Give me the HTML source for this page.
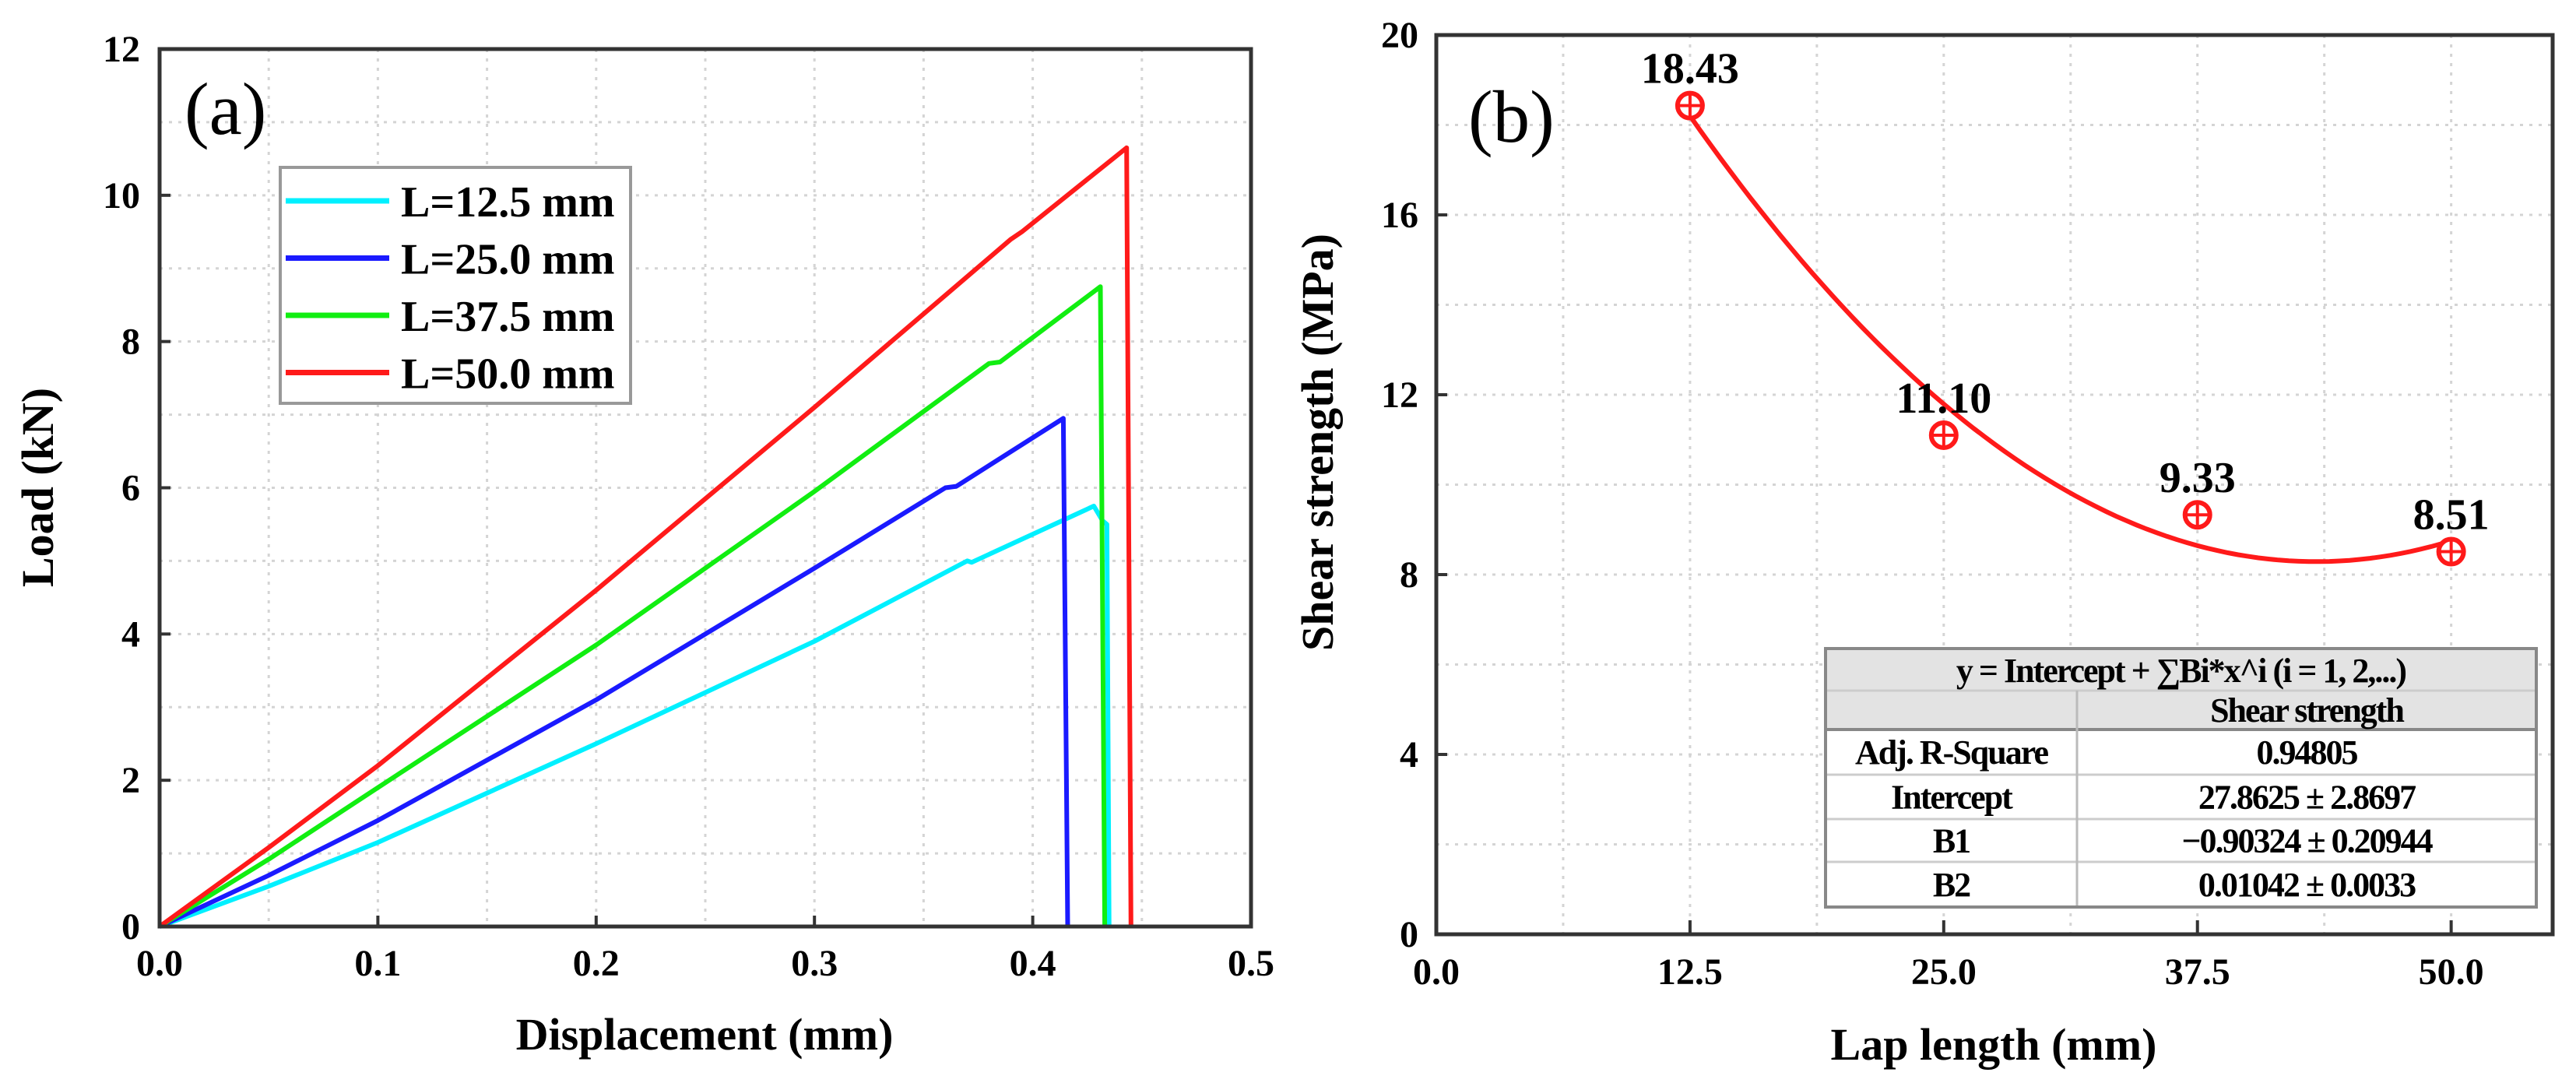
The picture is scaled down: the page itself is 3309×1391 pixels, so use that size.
<!DOCTYPE html>
<html><head><meta charset="utf-8"><style>
html,body{margin:0;padding:0;background:#fff;}
svg{display:block;font-family:"Liberation Serif",serif;}
</style></head><body>
<svg id="fig" width="3309" height="1391" viewBox="0 0 3309 1391" xmlns="http://www.w3.org/2000/svg"></svg>
<script>
// ---- Panel (a) data ----
const aXTicks = [0.0, 0.1, 0.2, 0.3, 0.4, 0.5];
const aYTicks = [0, 2, 4, 6, 8, 10, 12];
const aSeriesNames = ["L=12.5 mm", "L=25.0 mm", "L=37.5 mm", "L=50.0 mm"];
const aColors = ["#00f0ff", "#1a1aff", "#11ee11", "#ff1a1a"];
const cyanX = [0, 0.05, 0.1, 0.2, 0.3, 0.37, 0.372, 0.428, 0.432, 0.434, 0.435];
const cyanY = [0, 0.55, 1.15, 2.5, 3.9, 5.0, 4.98, 5.75, 5.55, 5.5, 0];
const blueX = [0, 0.05, 0.1, 0.2, 0.3, 0.36, 0.365, 0.414, 0.416];
const blueY = [0, 0.7, 1.45, 3.1, 4.9, 6.0, 6.02, 6.95, 0];
const greenX = [0, 0.05, 0.1, 0.2, 0.3, 0.38, 0.385, 0.431, 0.433];
const greenY = [0, 0.92, 1.9, 3.85, 5.95, 7.7, 7.72, 8.75, 0];
const redX = [0, 0.05, 0.1, 0.2, 0.3, 0.39, 0.395, 0.443, 0.445];
const redY = [0, 1.08, 2.2, 4.6, 7.1, 9.4, 9.5, 10.65, 0];
// ---- Panel (b) data ----
const bXTicks = [0.0, 12.5, 25.0, 37.5, 50.0];
const bYTicks = [0, 4, 8, 12, 16, 20];
const lapLength = [12.5, 25.0, 37.5, 50.0];
const shearStrength = [18.43, 11.10, 9.33, 8.51];
const fitCoef = [27.8625, -0.90324, 0.01042];
const tableRows = [["Adj. R-Square","0.94805"],["Intercept","27.8625 \u00b1 2.8697"],["B1","\u22120.90324 \u00b1 0.20944"],["B2","0.01042 \u00b1 0.0033"]];

const svg = document.getElementById('fig');
const NS = "http://www.w3.org/2000/svg";
function mk(tag, attrs, parent){const e=document.createElementNS(NS,tag);for(const k in attrs)e.setAttribute(k,attrs[k]);(parent||svg).appendChild(e);return e;}
function txt(s, attrs, parent){const e=mk('text',attrs,parent);e.textContent=s;return e;}

const aL=205,aR=1607,aT=63,aB=1190;
const ax = v => aL + (v-0)/(0.5-0)*(aR-aL);
const ay = v => aB - (v-0)/(12-0)*(aB-aT);
const bL=1845,bR=3279,bT=45,bB=1200;
const bx = v => bL + v/55*(bR-bL);
const by = v => bB - v/20*(bB-bT);

const gA = mk('g',{});


const gB = mk('g',{});



for(let v=0.05; v<0.5; v+=0.05){const l=mk('line',{x1:ax(v),x2:ax(v),y1:aT,y2:aB,stroke:'#d4d4d4','stroke-width':3,'stroke-dasharray':'4 8'},gA);}
for(let v=1; v<12; v+=1){const l=mk('line',{x1:aL,x2:aR,y1:ay(v),y2:ay(v),stroke:'#d4d4d4','stroke-width':3,'stroke-dasharray':'4 8'},gA);}
for(let v=6.25; v<55; v+=6.25){const l=mk('line',{x1:bx(v),x2:bx(v),y1:bT,y2:bB,stroke:'#d4d4d4','stroke-width':3,'stroke-dasharray':'4 8'},gB);}
for(let v=2; v<20; v+=2){const l=mk('line',{x1:bL,x2:bR,y1:by(v),y2:by(v),stroke:'#d4d4d4','stroke-width':3,'stroke-dasharray':'4 8'},gB);}

aXTicks.forEach(v=>{
  mk('line',{x1:ax(v),x2:ax(v),y1:aB,y2:aB-14,stroke:'#333','stroke-width':4},gA);
  const t=txt(v.toFixed(1),{x:ax(v),y:1253,'font-size':48,'font-weight':'bold','text-anchor':'middle'},gA);
  
});
aYTicks.forEach(v=>{
  mk('line',{x1:aL,x2:aL+14,y1:ay(v),y2:ay(v),stroke:'#333','stroke-width':4},gA);
  const t=txt(String(v),{x:180,y:ay(v)+16,'font-size':48,'font-weight':'bold','text-anchor':'end'},gA);
  
});
bXTicks.forEach(v=>{
  mk('line',{x1:bx(v),x2:bx(v),y1:bB,y2:bB-18,stroke:'#333','stroke-width':4},gB);
  const t=txt(v.toFixed(1),{x:bx(v),y:1264,'font-size':48,'font-weight':'bold','text-anchor':'middle'},gB);
  
});
bYTicks.forEach(v=>{
  mk('line',{x1:bL,x2:bL+14,y1:by(v),y2:by(v),stroke:'#333','stroke-width':4},gB);
  const t=txt(String(v),{x:1822,y:by(v)+16,'font-size':48,'font-weight':'bold','text-anchor':'end'},gB);
  
});

const aSeries=[[cyanX,cyanY],[blueX,blueY],[greenX,greenY],[redX,redY]];
aSeries.forEach((s,i)=>{
  const d=s[0].map((x,j)=>(j?'L':'M')+ax(x).toFixed(1)+','+ay(s[1][j]).toFixed(1)).join(' ');
  const p=mk('path',{d:d,fill:'none',stroke:aColors[i],'stroke-width':6,'stroke-linejoin':'round'},gA);
  
  
});

const fa=mk('rect',{x:aL,y:aT,width:aR-aL,height:aB-aT,fill:'none',stroke:'#333','stroke-width':5},gA);


const lg=mk('g',{},gA);


mk('rect',{x:360,y:215,width:450,height:303,fill:'#fff',stroke:'#999','stroke-width':4},lg);
aSeriesNames.forEach((n,i)=>{
  const y=258+i*73.5;
  const e=mk('g',{},lg);
  
  
  mk('line',{x1:367,x2:500,y1:y,y2:y,stroke:aColors[i],'stroke-width':7},e);
  txt(n,{x:515,y:y+20,'font-size':56,'font-weight':'bold'},e);
});
const la=txt('(a)',{x:237,y:172,'font-size':95},gA);

const xta=txt('Displacement (mm)',{x:905,y:1348,'font-size':58,'font-weight':'bold','text-anchor':'middle'},gA);

const yta=txt('Load (kN)',{x:0,y:0,'font-size':58,'font-weight':'bold','text-anchor':'middle',transform:'translate(68,626) rotate(-90)'},gA);


let pts=[];
for(let x=12.5;x<=50.001;x+=0.5){const y=fitCoef[0]+fitCoef[1]*x+fitCoef[2]*x*x;pts.push(bx(x).toFixed(1)+','+by(y).toFixed(1));}
const fc=mk('path',{d:'M'+pts.join(' L'),fill:'none',stroke:'#ff1a1a','stroke-width':6},gB);

lapLength.forEach((x,i)=>{
  const cx=bx(x),cy=by(shearStrength[i]);
  const m=mk('g',{},gB);
  
  
  mk('circle',{cx:cx,cy:cy,r:16,fill:'#fff',stroke:'#ff1a1a','stroke-width':6},m);
  mk('line',{x1:cx-16,x2:cx+16,y1:cy,y2:cy,stroke:'#ff1a1a','stroke-width':4},m);
  mk('line',{x1:cx,x2:cx,y1:cy-16,y2:cy+16,stroke:'#ff1a1a','stroke-width':4},m);
  const t=txt(shearStrength[i].toFixed(2),{x:cx,y:cy-29,'font-size':56,'font-weight':'bold','text-anchor':'middle'},gB);
  
});

const tb=mk('g',{},gB);


const tL=2345,tR=3258,tD=2668;
const rowY=[833,887,937,995,1052,1107,1165];
mk('rect',{x:tL,y:rowY[0],width:tR-tL,height:rowY[2]-rowY[0],fill:'#e3e3e3'},tb);
mk('rect',{x:tL,y:rowY[2],width:tR-tL,height:rowY[6]-rowY[2],fill:'#fff'},tb);
for(let i=1;i<6;i++) mk('line',{x1:tL,x2:tR,y1:rowY[i],y2:rowY[i],stroke:(i==2?'#888':'#ccc'),'stroke-width':(i==2?4:3)},tb);
mk('line',{x1:tD,x2:tD,y1:rowY[1],y2:rowY[6],stroke:'#bbb','stroke-width':3},tb);
mk('rect',{x:tL,y:rowY[0],width:tR-tL,height:rowY[6]-rowY[0],fill:'none',stroke:'#888','stroke-width':4},tb);
const fs={'font-size':44,'font-weight':'bold','text-anchor':'middle','letter-spacing':'-2'};
txt('y  =  Intercept + \u2211Bi*x^i (i  =  1, 2,...)',Object.assign({x:(tL+tR)/2,y:876},fs),tb);
txt('Shear strength',Object.assign({x:(tD+tR)/2,y:927},fs),tb);
tableRows.forEach((r,i)=>{
  const y=(rowY[i+2]+rowY[i+3])/2+15;
  txt(r[0],Object.assign({x:(tL+tD)/2,y:y},fs),tb);
  txt(r[1],Object.assign({x:(tD+tR)/2,y:y},fs),tb);
});

const fb=mk('rect',{x:bL,y:bT,width:bR-bL,height:bB-bT,fill:'none',stroke:'#333','stroke-width':5},gB);

const lb=txt('(b)',{x:1886,y:182,'font-size':95},gB);

const xtb=txt('Lap length (mm)',{x:2561,y:1361,'font-size':58,'font-weight':'bold','text-anchor':'middle'},gB);

const ytb=txt('Shear strength (MPa)',{x:0,y:0,'font-size':58,'font-weight':'bold','text-anchor':'middle',transform:'translate(1712,568) rotate(-90)'},gB);

</script>
</body></html>
